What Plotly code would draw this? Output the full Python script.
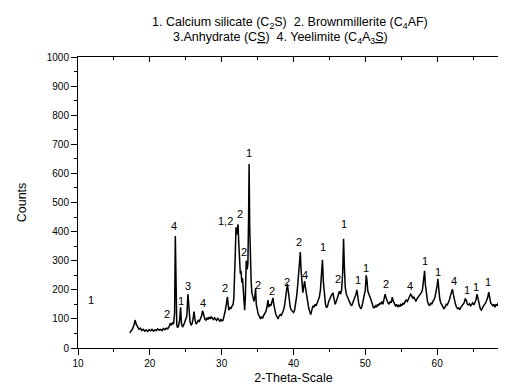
import plotly.graph_objects as go

two_theta = [17.2, 17.4, 17.6, 17.8, 17.95, 18.1, 18.3, 18.5, 18.7, 18.9, 19.1, 19.3, 19.5, 19.7, 19.9,
             20.1, 20.3, 20.5, 20.7, 20.9, 21.1, 21.3, 21.5, 21.7, 21.9, 22.1, 22.3, 22.5, 22.7, 22.85,
             23.0, 23.15, 23.3, 23.45, 23.55, 23.65, 23.75, 23.85, 24.0, 24.15, 24.28, 24.4, 24.55, 24.7,
             24.85, 25.0, 25.15, 25.3, 25.45, 25.6, 25.75, 25.9, 26.05, 26.15, 26.3, 26.45, 26.6, 26.75,
             26.9, 27.05, 27.2, 27.35, 27.5, 27.65, 27.8, 27.95, 28.1, 28.25, 28.4, 28.55, 28.7, 28.85,
             29.0, 29.15, 29.3, 29.45, 29.6, 29.75, 29.9, 30.05, 30.2, 30.35, 30.5, 30.65, 30.8, 30.9,
             31.0, 31.15, 31.3, 31.45, 31.6, 31.7, 31.8, 31.9, 32.0, 32.08, 32.18, 32.28, 32.38, 32.5,
             32.6, 32.7, 32.8, 32.9, 33.0, 33.1, 33.2, 33.3, 33.42, 33.55, 33.65, 33.75, 33.82, 33.9,
             34.0, 34.1, 34.2, 34.35, 34.5, 34.62, 34.72, 34.82, 34.95, 35.1, 35.25, 35.4, 35.55, 35.7,
             35.85, 36.0, 36.15, 36.3, 36.45, 36.55, 36.7, 36.85, 37.0, 37.15, 37.25, 37.4, 37.55, 37.7,
             37.85, 38.0, 38.15, 38.3, 38.45, 38.6, 38.75, 38.9, 39.05, 39.15, 39.25, 39.4, 39.55, 39.7,
             39.85, 40.0, 40.15, 40.3, 40.45, 40.6, 40.75, 40.85, 40.95, 41.05, 41.15, 41.3, 41.45, 41.55,
             41.65, 41.8, 41.95, 42.1, 42.25, 42.4, 42.55, 42.7, 42.85, 43.0, 43.15, 43.3, 43.45, 43.6,
             43.75, 43.9, 44.03, 44.15, 44.3, 44.45, 44.6, 44.75, 44.9, 45.05, 45.2, 45.35, 45.5, 45.65,
             45.8, 45.95, 46.1, 46.25, 46.4, 46.55, 46.7, 46.85, 46.97, 47.08, 47.2, 47.35, 47.5, 47.65,
             47.8, 47.95, 48.1, 48.25, 48.4, 48.55, 48.7, 48.82, 48.95, 49.1, 49.25, 49.4, 49.55, 49.7,
             49.85, 50.0, 50.12, 50.22, 50.35, 50.5, 50.65, 50.8, 50.95, 51.1, 51.25, 51.4, 51.55, 51.7,
             51.85, 52.0, 52.15, 52.3, 52.45, 52.6, 52.75, 52.85, 53.0, 53.15, 53.3, 53.45, 53.6, 53.75,
             53.9, 54.05, 54.2, 54.35, 54.5, 54.65, 54.8, 54.95, 55.1, 55.25, 55.4, 55.55, 55.7, 55.85,
             56.0, 56.15, 56.3, 56.45, 56.6, 56.75, 56.9, 57.05, 57.2, 57.35, 57.5, 57.65, 57.8, 57.95,
             58.1, 58.25, 58.35, 58.5, 58.65, 58.8, 58.95, 59.1, 59.25, 59.4, 59.55, 59.7, 59.85, 60.0,
             60.1, 60.22, 60.35, 60.5, 60.65, 60.8, 60.95, 61.1, 61.25, 61.4, 61.55, 61.7, 61.85, 62.0,
             62.12, 62.25, 62.4, 62.55, 62.7, 62.85, 63.0, 63.15, 63.3, 63.45, 63.6, 63.75, 63.9, 64.05,
             64.2, 64.35, 64.5, 64.65, 64.8, 64.95, 65.1, 65.25, 65.4, 65.55, 65.7, 65.85, 66.0, 66.15,
             66.3, 66.45, 66.6, 66.75, 66.9, 67.05, 67.18, 67.3, 67.45, 67.6, 67.75, 67.9, 68.05, 68.2,
             68.35, 68.5, 68.65, 68.8, 68.95, 69.1, 69.25, 69.4, 69.55, 69.7, 69.85, 70.0]

counts = [52, 60, 66, 80, 96, 82, 70, 64, 68, 60, 64, 58, 62, 57, 63,
          59, 64, 58, 62, 60, 66, 61, 64, 60, 67, 63, 68, 66, 74, 85,
          78, 88, 82, 120, 385, 140, 80, 70, 76, 95, 140, 85, 72, 78,
          90, 95, 110, 185, 120, 90, 78, 85, 105, 125, 95, 82, 88, 95,
          92, 100, 110, 128, 108, 100, 96, 104, 98, 106, 100, 108, 102, 98,
          104, 100, 95, 102, 96, 92, 98, 93, 96, 110, 128, 150, 176, 150,
          130, 140, 135, 145, 150, 175, 230, 330, 415, 390, 405, 425, 360, 290,
          255, 265, 225, 240, 190, 160, 130, 175, 300, 270, 290, 450, 632, 420,
          270, 230, 190, 170, 160, 175, 205, 150, 130, 115, 110, 100, 108, 102,
          112, 118, 125, 140, 165, 140, 150, 145, 155, 172, 150, 125, 115, 108,
          100, 110, 115, 112, 120, 130, 145, 175, 205, 220, 200, 165, 140, 130,
          125, 122, 130, 150, 180, 220, 270, 300, 330, 270, 220, 190, 215, 230,
          210, 180, 160, 140, 125, 115, 130, 145, 140, 150, 145, 155, 160, 175,
          200, 250, 303, 230, 180, 150, 138, 145, 160, 170, 180, 185, 188, 160,
          150, 160, 175, 185, 195, 185, 200, 260, 375, 280, 210, 185, 175, 165,
          158, 150, 145, 155, 160, 170, 185, 200, 170, 150, 140, 135, 145, 160,
          175, 200, 250, 235, 195, 180, 175, 165, 150, 140, 138, 145, 140, 150,
          145, 155, 150, 160, 150, 165, 185, 175, 160, 155, 150, 160, 155, 175,
          160, 150, 145, 150, 140, 148, 142, 150, 145, 155, 150, 160, 165, 160,
          170, 175, 185, 180, 170, 175, 165, 160, 170, 175, 180, 185, 190, 200,
          230, 265, 220, 180, 160, 150, 145, 155, 150, 160, 165, 175, 190, 215,
          238, 200, 170, 155, 148, 140, 135, 140, 150, 148, 155, 165, 180, 195,
          202, 185, 165, 150, 140, 135, 138, 132, 140, 145, 150, 155, 168, 165,
          150, 148, 152, 145, 150, 155, 148, 155, 165, 185, 170, 145, 135, 130,
          140, 145, 150, 155, 165, 175, 192, 170, 155, 150, 145, 150, 140, 150,
          145, 155, 148, 150, 142, 148, 140, 145, 135, 140, 132, 135]

label_text = ["1", "2", "4", "1", "3", "4", "2", "1,2", "2", "2", "1", "2", "2", "2", "2", "4",
              "1", "2", "1", "1", "1", "2", "4", "1", "1", "4", "1", "1", "1"]
label_x = [11.8, 22.43, 23.36, 24.3, 25.36, 27.45, 30.47, 30.5, 32.6, 33.1, 33.85, 35.06, 37.0, 39.05,
           40.77, 41.65, 44.07, 46.2, 46.99, 48.98, 50.05, 52.83, 56.27, 58.26, 60.12, 62.3, 64.1,
           65.35, 67.08]
label_y = [165, 118, 419, 163, 212, 155, 206, 436, 459, 329, 671, 215, 195, 227, 363, 252,
           346, 238, 427, 235, 275, 221, 213, 298, 261, 229, 198, 210, 227]

title_lines = ["1. Calcium silicate (C<sub>2</sub>S)  2. Brownmillerite (C<sub>4</sub>AF)",
               "3.Anhydrate (C<u>S</u>)  4. Yeelimite (C<sub>4</sub>A<sub>3</sub><u>S</u>)"]

font_family = "Liberation Sans, Arial, sans-serif"

fig = go.Figure()
fig.add_trace(go.Scatter(x=two_theta, y=counts, mode="lines",
                         line=dict(color="black", width=1.5), showlegend=False, hoverinfo="skip"))
fig.add_trace(go.Scatter(x=[None], y=[None], xaxis="x2", yaxis="y2", showlegend=False))

for t, x, y in zip(label_text, label_x, label_y):
    fig.add_annotation(x=x, y=y, text=t, showarrow=False, xref="x", yref="y",
                       font=dict(size=11, color="black", family=font_family))

fig.add_annotation(x=0.492, y=1.117, xref="paper", yref="paper", text=title_lines[0],
                   xanchor="center", yanchor="middle",
                   showarrow=False, font=dict(size=12.5, color="black", family=font_family))
fig.add_annotation(x=0.469, y=1.064, xref="paper", yref="paper", text=title_lines[1],
                   xanchor="center", yanchor="middle",
                   showarrow=False, font=dict(size=12.5, color="black", family=font_family))

axis_common = dict(showgrid=False, zeroline=False, showline=True, linecolor="black", linewidth=1,
                   tickcolor="black", automargin=False,
                   tickfont=dict(size=10, family=font_family, color="black"))

fig.update_layout(
    width=506, height=388,
    margin=dict(l=70, r=5, t=49, b=48),
    paper_bgcolor="white", plot_bgcolor="white",
    font=dict(family=font_family, color="black"),
    xaxis=dict(range=[10, 70], dtick=10, tick0=10, ticks="outside", ticklen=6,
               minor=dict(dtick=5, ticks="outside", ticklen=3, tickcolor="black"),
               title=dict(text="2-Theta-Scale", font=dict(size=12.5, family=font_family), standoff=5),
               **axis_common),
    yaxis=dict(range=[0, 1000], dtick=100, ticks="outside", ticklen=6,
               minor=dict(dtick=50, ticks="outside", ticklen=3, tickcolor="black"),
               title=dict(text="Counts", font=dict(size=12.5, family=font_family), standoff=17),
               **axis_common),
    xaxis2=dict(range=[10, 70], overlaying="x", side="top", anchor="y", dtick=10, tick0=10,
                ticks="inside", ticklen=5, showticklabels=False, automargin=False,
                minor=dict(dtick=5, ticks="inside", ticklen=3, tickcolor="black"),
                showline=True, showgrid=False, zeroline=False, linecolor="black", tickcolor="black"),
    yaxis2=dict(range=[0, 1000], overlaying="y", side="right", anchor="x", dtick=100,
                ticks="inside", ticklen=5, showticklabels=False, automargin=False,
                minor=dict(dtick=50, ticks="inside", ticklen=3, tickcolor="black"),
                showline=True, showgrid=False, zeroline=False, linecolor="black", tickcolor="black"),
)

fig.write_html("out.html")
